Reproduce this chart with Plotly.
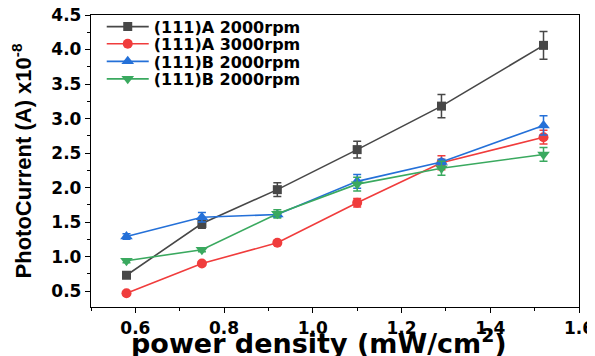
import plotly.graph_objects as go

power_density = [0.58, 0.75, 0.92, 1.10, 1.29, 1.52]

series_names = ["(111)A 2000rpm", "(111)A 3000rpm", "(111)B 2000rpm", "(111)B 2000rpm"]
a2000 = [0.73, 1.48, 1.97, 2.55, 3.18, 4.06]
a2000_err = [0.04, 0.07, 0.10, 0.12, 0.17, 0.20]
a3000 = [0.47, 0.90, 1.20, 1.78, 2.36, 2.73]
a3000_err = [0.02, 0.02, 0.03, 0.06, 0.10, 0.10]
b2000 = [1.29, 1.57, 1.61, 2.09, 2.37, 2.90]
b2000_err = [0.04, 0.07, 0.04, 0.10, 0.04, 0.14]
b2000b = [0.94, 1.10, 1.62, 2.05, 2.28, 2.48]
b2000b_err = [0.03, 0.03, 0.06, 0.10, 0.10, 0.10]

series_values = [a2000, a3000, b2000, b2000b]
series_errors = [a2000_err, a3000_err, b2000_err, b2000b_err]
colors = ["#474747", "#f03c3c", "#2470d8", "#3aa95f"]
symbols = ["square", "circle", "triangle-up", "triangle-down"]
sizes = [9, 10, 11, 11]

x_ticks = [0.6, 0.8, 1.0, 1.2, 1.4, 1.6]
y_ticks = [0.5, 1.0, 1.5, 2.0, 2.5, 3.0, 3.5, 4.0, 4.5]

x_title = "power density (mW/cm<sup>2</sup>)"
y_title = "PhotoCurrent (A) x10<sup>-8</sup>"

FONT = "DejaVu Sans"
NARROW = "Liberation Sans"

legend_ids = ["legend", "legend2", "legend3", "legend4"]
legend_rows = [0.960, 0.901, 0.841, 0.781]

fig = go.Figure()
for name, vals, errs, col, sym, sz, lid in zip(series_names, series_values, series_errors,
                                                colors, symbols, sizes, legend_ids):
    fig.add_trace(go.Scatter(
        x=power_density, y=vals, name=name, mode="lines+markers",
        line=dict(color=col, width=1.6),
        marker=dict(symbol=sym, size=sz, color=col),
        error_y=dict(type="data", array=errs, visible=True, color=col, thickness=1.5, width=4),
        legend=lid,
    ))

axis_common = dict(
    showline=True, linecolor="black", linewidth=1.3, mirror=True,
    ticks="outside", ticklen=5, tickwidth=1.3, tickcolor="black",
    showgrid=False, zeroline=False, automargin=False, ticklabeloverflow="allow",
    tickfont=dict(family=FONT, size=17, color="black", weight="bold"),
)

fig.update_xaxes(
    range=[0.5, 1.6], tickvals=x_ticks, ticktext=[f"{v:.1f}" for v in x_ticks],
    minor=dict(dtick=0.1, tick0=0.5, ticks="outside", ticklen=3, tickwidth=1.2, tickcolor="black"),
    **axis_common,
)
fig.update_yaxes(
    range=[0.27, 4.5], tickvals=y_ticks, ticktext=[f"{v:.1f}" for v in y_ticks],
    minor=dict(dtick=0.25, tick0=0.25, ticks="outside", ticklen=3, tickwidth=1.2, tickcolor="black"),
    title=dict(text=y_title, standoff=14,
               font=dict(family=NARROW, size=22, color="black", weight="bold")),
    **axis_common,
)

fig.add_annotation(
    text=x_title, xref="paper", yref="paper", x=0.5, y=0, xanchor="center", yanchor="middle",
    yshift=-34, xshift=-16, showarrow=False,
    font=dict(family=FONT, size=27, color="black", weight="bold"),
)

legend_style = dict(xanchor="left", yanchor="middle", bgcolor="rgba(0,0,0,0)", borderwidth=0,
                    itemwidth=42, font=dict(family=FONT, size=16, color="black", weight="bold"))
layout_legends = {}
for lid, ly in zip(legend_ids, legend_rows):
    layout_legends[lid] = dict(x=0.022, y=ly, **legend_style)

# the page body has an 8px margin, so the figure is drawn 8px smaller and the margins shifted
fig.update_layout(
    width=587, height=348,
    margin=dict(l=83, r=16, t=7, b=49, autoexpand=False),
    paper_bgcolor="white", plot_bgcolor="white",
    showlegend=True,
    **layout_legends,
)

fig.write_html("out.html")
